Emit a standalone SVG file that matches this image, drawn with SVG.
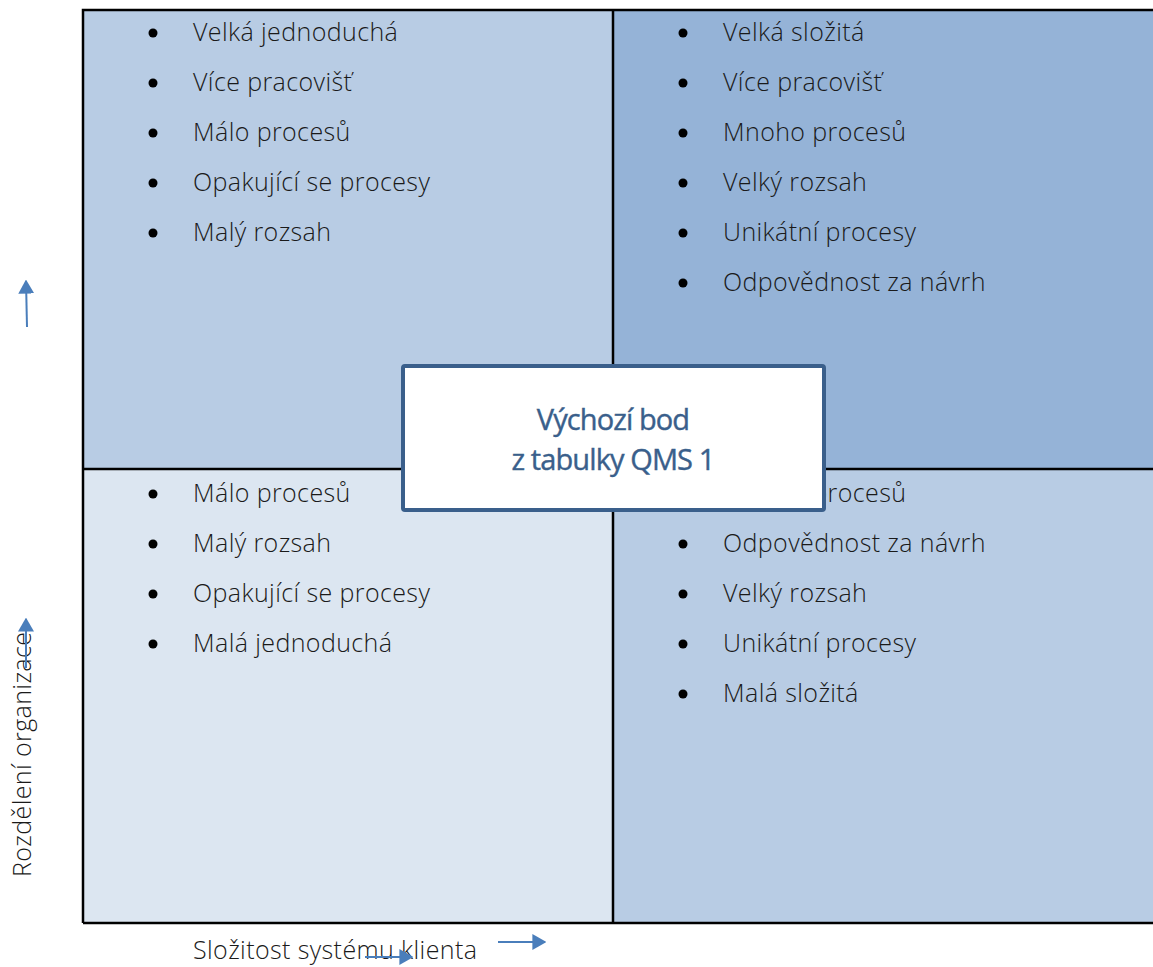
<svg xmlns="http://www.w3.org/2000/svg" width="1153" height="967" viewBox="0 0 1153 967">
<style>
.q{stroke:none}
.t{font-family:"Open Sans","Liberation Sans",sans-serif;font-weight:300;font-size:25px;letter-spacing:0.4px;fill:#1a1a1a}
.b{fill:#000}
.c{font-family:"Open Sans","Liberation Sans",sans-serif;font-weight:400;font-size:29px;fill:#3A5F8B;text-anchor:middle;letter-spacing:-0.9px;stroke:#3A5F8B;stroke-width:0.4px}
.a{stroke:#4A7EBB;stroke-width:2;fill:none}
</style>
<defs>
<marker id="ah" viewBox="0 0 10 10" refX="9" refY="5" markerWidth="7" markerHeight="8" orient="auto" markerUnits="strokeWidth" preserveAspectRatio="none">
<path d="M0,0 L10,5 L0,10 z" fill="#4A7EBB"/>
</marker>
</defs>
<rect width="1153" height="967" fill="#fff"/>
<g id="quadrants">
<rect class="q" x="83" y="10" width="530" height="459" fill="#B8CCE4"/>
<rect class="q" x="613" y="10" width="540" height="459" fill="#95B3D7"/>
<rect class="q" x="83" y="469" width="530" height="454" fill="#DCE6F1"/>
<rect class="q" x="613" y="469" width="540" height="454" fill="#B8CCE4"/>
<path d="M83,923 L83,10 L1153,10 M83,923 L1153,923 M613,10 L613,923 M83,469 L1153,469" stroke="#000" stroke-width="2.5" fill="none"/>
</g>
<g id="tl">
<circle class="b" cx="153" cy="33" r="4.5"/><text class="t" x="193" y="41">Velká jednoduchá</text>
<circle class="b" cx="153" cy="83" r="4.5"/><text class="t" x="193" y="91">Více pracovišť</text>
<circle class="b" cx="153" cy="133" r="4.5"/><text class="t" x="193" y="141">Málo procesů</text>
<circle class="b" cx="153" cy="183" r="4.5"/><text class="t" x="193" y="191">Opakující se procesy</text>
<circle class="b" cx="153" cy="233" r="4.5"/><text class="t" x="193" y="241">Malý rozsah</text>
</g>
<g id="tr">
<circle class="b" cx="683" cy="33" r="4.5"/><text class="t" x="723" y="41">Velká složitá</text>
<circle class="b" cx="683" cy="83" r="4.5"/><text class="t" x="723" y="91">Více pracovišť</text>
<circle class="b" cx="683" cy="133" r="4.5"/><text class="t" x="723" y="141">Mnoho procesů</text>
<circle class="b" cx="683" cy="183" r="4.5"/><text class="t" x="723" y="191">Velký rozsah</text>
<circle class="b" cx="683" cy="233" r="4.5"/><text class="t" x="723" y="241">Unikátní procesy</text>
<circle class="b" cx="683" cy="283" r="4.5"/><text class="t" x="723" y="291">Odpovědnost za návrh</text>
</g>
<g id="bl">
<circle class="b" cx="153" cy="494" r="4.5"/><text class="t" x="193" y="502">Málo procesů</text>
<circle class="b" cx="153" cy="544" r="4.5"/><text class="t" x="193" y="552">Malý rozsah</text>
<circle class="b" cx="153" cy="594" r="4.5"/><text class="t" x="193" y="602">Opakující se procesy</text>
<circle class="b" cx="153" cy="644" r="4.5"/><text class="t" x="193" y="652">Malá jednoduchá</text>
</g>
<g id="br">
<circle class="b" cx="683" cy="494" r="4.5"/><text class="t" x="723" y="502">Mnoho procesů</text>
<circle class="b" cx="683" cy="544" r="4.5"/><text class="t" x="723" y="552">Odpovědnost za návrh</text>
<circle class="b" cx="683" cy="594" r="4.5"/><text class="t" x="723" y="602">Velký rozsah</text>
<circle class="b" cx="683" cy="644" r="4.5"/><text class="t" x="723" y="652">Unikátní procesy</text>
<circle class="b" cx="683" cy="694" r="4.5"/><text class="t" x="723" y="702">Malá složitá</text>
</g>
<g id="center">
<rect x="403" y="366" width="421" height="144" rx="2" fill="#fff" stroke="#3A5F8B" stroke-width="4"/>
<text class="c" x="613" y="430">Výchozí bod</text>
<text class="c" x="613" y="470">z tabulky QMS 1</text>
</g>
<g id="labels">
<text class="t" x="193" y="959">Složitost systému klienta</text>
<text class="t" transform="translate(31,877) rotate(-90)">Rozdělení organizace</text>
</g>
<g id="connectors">
<line class="a" x1="27" y1="327" x2="26" y2="281" marker-end="url(#ah)"/>
<line class="a" x1="26" y1="668" x2="26" y2="619" marker-end="url(#ah)"/>
<line class="a" x1="498" y1="942" x2="545" y2="942" marker-end="url(#ah)"/>
<line class="a" x1="365" y1="957" x2="412" y2="957" marker-end="url(#ah)"/>
</g>
</svg>
